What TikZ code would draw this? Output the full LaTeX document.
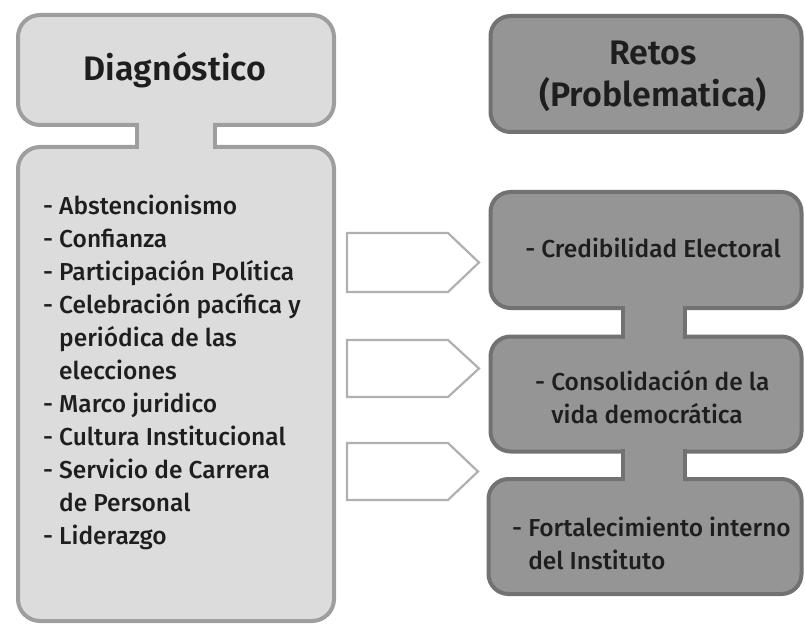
\documentclass[tikz,border=0pt]{standalone}
\usepackage{fontspec}
\setmainfont{Fira Sans}[UprightFont={* Medium}, BoldFont={* SemiBold}]
\definecolor{lfill}{HTML}{DCDCDC}
\definecolor{lborder}{HTML}{9E9E9E}
\definecolor{dfill}{HTML}{959595}
\definecolor{dborder}{HTML}{727272}
\definecolor{txt}{HTML}{1E1E1E}
\definecolor{arrborder}{HTML}{B0B0B0}
\tikzset{
  lightbox/.style={draw=lborder, fill=lfill, line width=4pt, rounded corners=22pt, inner sep=0pt},
  darkbox/.style={draw=dborder, fill=dfill, line width=4pt, rounded corners=20pt, inner sep=0pt},
  listtext/.style={text=txt, inner sep=0pt, align=left, font=\fontsize{24.5}{33}\selectfont},
  titletext/.style={text=txt, inner sep=0pt, align=center, font=\fontsize{34}{42}\selectfont\bfseries},
  hollowarrow/.style={draw=arrborder, fill=white, line width=2.2pt, line join=miter},
}
\begin{document}
\begin{tikzpicture}[x=1pt,y=-1pt]
\useasboundingbox (0,0) rectangle (805,628);
% left column
\node[lightbox, minimum width=316pt, minimum height=110pt] (diag) at (176,70) {};
\node[lightbox, minimum width=316pt, minimum height=474pt] (diaglist) at (176,384) {};
\draw[draw=lborder, fill=lfill, line width=4pt] (137,125) rectangle (215,147);
\fill[lfill] (139,119) rectangle (213,153);
\node[titletext] (diagtitle) at (175,70) {Diagnóstico};
\node[listtext, anchor=west] (items) at (43,372) {- Abstencionismo\\- Confianza\\- Participación Política\\- Celebración pacífica y\\\hphantom{- }periódica de las\\\hphantom{- }elecciones\\- Marco juridico\\- Cultura Institucional\\- Servicio de Carrera\\\hphantom{- }de Personal\\- Liderazgo};
% right column
\node[darkbox, minimum width=311pt, minimum height=116pt] (retos) at (646,74) {};
\node[titletext] (retostitle) at (653,76) {Retos\\(Problematica)};
\node[darkbox, minimum width=311pt, minimum height=116pt] (cred) at (646,250) {};
\node[darkbox, minimum width=311pt, minimum height=115pt] (cons) at (646,394) {};
\node[darkbox, minimum width=313pt, minimum height=115pt] (fort) at (645,536.5) {};
\draw[draw=dborder, fill=dfill, line width=4pt] (623,308) rectangle (685,337);
\fill[dfill] (625,302) rectangle (683,343);
\draw[draw=dborder, fill=dfill, line width=4pt] (623,451) rectangle (685,479);
\fill[dfill] (625,445) rectangle (683,485);
\node[listtext, anchor=center] (credtext) at (653,248) {- Credibilidad Electoral};
\node[listtext, anchor=west] (constext) at (535,397) {- Consolidación de la\\\hphantom{- }vida democrática};
\node[listtext, anchor=west] (forttext) at (512,543) {- Fortalecimiento interno\\\hphantom{- }del Instituto};
% hollow arrows
\draw[hollowarrow] (347,233) -- (448,233) -- (479,262.5) -- (448,292) -- (347,292) -- cycle;
\draw[hollowarrow] (347,340) -- (448,340) -- (479,368.5) -- (448,397) -- (347,397) -- cycle;
\draw[hollowarrow] (347,443) -- (448,443) -- (478,471.5) -- (448,500) -- (347,500) -- cycle;
\end{tikzpicture}
\end{document}
